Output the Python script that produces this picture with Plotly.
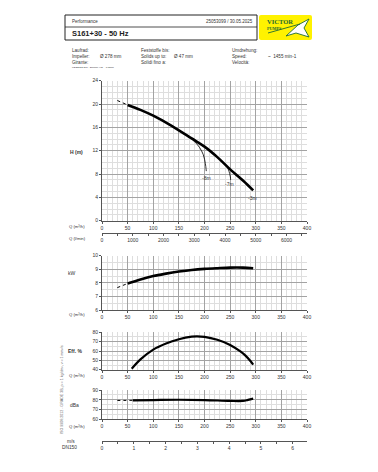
import plotly.graph_objects as go

# The page body has an 8px default margin: the figure is drawn 8px in from the top-left corner.
OFF = 8
W, H = 378 - 2 * OFF, 472 - 2 * OFF
def px(x): return (x - OFF) / W
def py(y): return 1 - (y - OFF) / H

# ---------------- data ----------------
q_head_dash = [30, 40, 50]
h_head_dash = [20.6, 20.25, 19.85]
q_head = [50, 75, 100, 125, 150, 175, 200, 225, 250, 275, 295]
h_head = [19.85, 19.0, 18.0, 16.8, 15.5, 14.1, 12.7, 10.9, 8.8, 6.9, 5.2]

q_npsh8 = [166, 180, 190, 197.7, 201.7, 203, 203.5]
h_npsh8 = [14.6, 13.6, 12.6, 11.3, 9.8, 8.9, 8.5]
q_npsh7 = [232, 240, 246, 249, 250.5, 251]
h_npsh7 = [10.4, 9.7, 8.9, 8.1, 7.5, 7.0]
curve_labels = ["-8m", "-7m", "-3m"]
label_q = [203, 249, 294]
label_h = [7.3, 6.3, 3.9]

q_kw_dash = [30, 40, 50]
kw_dash = [7.65, 7.8, 7.95]
q_kw = [50, 75, 100, 125, 150, 175, 200, 225, 250, 275, 295]
kw = [7.95, 8.25, 8.5, 8.68, 8.83, 8.95, 9.03, 9.08, 9.12, 9.12, 9.08]

q_eff = [58, 75, 100, 125, 150, 175, 185, 200, 225, 250, 270, 280, 290, 295]
eff = [41, 51, 61.5, 68, 72.5, 75.3, 75.7, 75.2, 72, 66.5, 59.5, 55, 49, 45.5]

q_db_dash = [30, 45, 60]
db_dash = [79.3, 79.3, 79.4]
q_db = [60, 100, 150, 200, 250, 275, 285, 295]
db = [79.4, 79.7, 80.0, 79.7, 78.8, 78.8, 79.9, 81.2]

Q_RANGE = [0, 400]
LMIN_PER_M3H = 1000 / 60
M3H_PER_MS = 61.4      # DN150 flow per 1 m/s

# ---------------- figure ----------------
fig = go.Figure()
BLK = "#000000"

fig.add_trace(go.Scatter(x=q_head_dash, y=h_head_dash, mode="lines",
                         line=dict(color=BLK, width=1, dash="dot"), xaxis="x", yaxis="y"))
fig.add_trace(go.Scatter(x=q_head, y=h_head, mode="lines", line=dict(color=BLK, width=2.6, shape="spline"),
                         xaxis="x", yaxis="y"))
fig.add_trace(go.Scatter(x=q_npsh8, y=h_npsh8, mode="lines", line=dict(color=BLK, width=0.8, shape="spline"),
                         xaxis="x", yaxis="y"))
fig.add_trace(go.Scatter(x=q_npsh7, y=h_npsh7, mode="lines", line=dict(color=BLK, width=0.8, shape="spline"),
                         xaxis="x", yaxis="y"))
# invisible carrier for l/min axis
fig.add_trace(go.Scatter(x=[q * LMIN_PER_M3H for q in q_head], y=h_head, mode="lines", opacity=0,
                         hoverinfo="skip", xaxis="x2", yaxis="y"))

fig.add_trace(go.Scatter(x=q_kw_dash, y=kw_dash, mode="lines", line=dict(color=BLK, width=1, dash="dot"),
                         xaxis="x3", yaxis="y3"))
fig.add_trace(go.Scatter(x=q_kw, y=kw, mode="lines", line=dict(color=BLK, width=2.6, shape="spline"),
                         xaxis="x3", yaxis="y3"))

fig.add_trace(go.Scatter(x=q_eff, y=eff, mode="lines", line=dict(color=BLK, width=2.2, shape="spline"),
                         xaxis="x4", yaxis="y4"))

fig.add_trace(go.Scatter(x=q_db_dash, y=db_dash, mode="lines", line=dict(color=BLK, width=1, dash="dot"),
                         xaxis="x5", yaxis="y5"))
fig.add_trace(go.Scatter(x=q_db, y=db, mode="lines", line=dict(color=BLK, width=2.2, shape="spline"),
                         xaxis="x5", yaxis="y5"))
# invisible carrier for m/s axis
fig.add_trace(go.Scatter(x=[q / M3H_PER_MS for q in q_db], y=db, mode="lines", opacity=0,
                         hoverinfo="skip", xaxis="x6", yaxis="y5"))

XD = [px(102), px(307)]
TF = dict(size=5, color="#333333", family="Liberation Sans, Arial")
MAJ = "#a3a3a3"
MIN = "#dedede"
LINE = "#555555"

def qaxis(anchor):
    return dict(domain=XD, range=Q_RANGE, anchor=anchor, tick0=0, dtick=50, automargin=False,
                showgrid=True, gridcolor=MAJ, gridwidth=0.8,
                minor=dict(dtick=10, showgrid=True, gridcolor=MIN, gridwidth=0.6),
                showline=True, linecolor=LINE, linewidth=0.8, ticks="outside", ticklen=2,
                tickcolor=LINE, tickwidth=0.6, tickfont=TF, zeroline=False, fixedrange=True)

def vaxis(top, bottom, rng, dtick, mdtick, anchor):
    return dict(domain=[py(bottom), py(top)], range=rng, anchor=anchor, dtick=dtick, automargin=False,
                showgrid=True, gridcolor=MAJ, gridwidth=0.8,
                minor=dict(dtick=mdtick, showgrid=True, gridcolor=MIN, gridwidth=0.6),
                showline=True, linecolor=LINE, linewidth=0.8, ticks="outside", ticklen=2,
                tickcolor=LINE, tickwidth=0.6, tickfont=TF, zeroline=False, fixedrange=True)

fig.update_layout(
    template="none",
    width=W, height=H, margin=dict(l=0, r=0, t=0, b=0, pad=0), autosize=False,
    paper_bgcolor="white", plot_bgcolor="white", showlegend=False,
    font=dict(family="Liberation Sans, Arial", color="#333333"),
    xaxis=qaxis("y"),
    yaxis=vaxis(80.7, 220.7, [0, 24], 4, 1, "x"),
    xaxis2=dict(domain=XD, range=[0, Q_RANGE[1] * LMIN_PER_M3H], anchor="free", position=py(232.7),
                overlaying="x", dtick=1000, tick0=0, showgrid=False, showline=True, linecolor=LINE,
                linewidth=0.8, ticks="outside", ticklen=2, tickcolor=LINE, tickwidth=0.6, automargin=False,
                minor=dict(dtick=500, ticks="outside", ticklen=2, tickcolor=LINE, showgrid=False),
                tickfont=TF, zeroline=False, fixedrange=True),
    xaxis3=qaxis("y3"),
    yaxis3=vaxis(255.7, 310, [6, 10], 1, 0.5, "x3"),
    xaxis4=qaxis("y4"),
    yaxis4=vaxis(332.3, 369.7, [40, 80], 10, 5, "x4"),
    xaxis5=qaxis("y5"),
    yaxis5=vaxis(390, 419.3, [60, 90], 10, 5, "x5"),
    xaxis6=dict(domain=[px(101.3), px(305)], range=[0, 6.45], anchor="free", position=py(440.7),
                overlaying="x5", dtick=1, tick0=0, showgrid=False, showline=True, linecolor=LINE,
                linewidth=0.8, ticks="outside", ticklen=2, tickcolor=LINE, tickwidth=0.6, automargin=False,
                minor=dict(dtick=0.5, ticks="outside", ticklen=2, tickcolor=LINE, showgrid=False),
                tickfont=TF, zeroline=False, fixedrange=True),
)

ann = []
def txt(x, y, s, size=5, anchor="left", color="#333333", bold=False, family="Liberation Sans, Arial", angle=0):
    if bold:
        s = "<b>" + s + "</b>"
    ann.append(dict(x=px(x), y=py(y), xref="paper", yref="paper", text=s, showarrow=False,
                    xanchor=anchor, yanchor="middle", textangle=angle,
                    font=dict(size=size, color=color, family=family)))

# curve labels (data coords)
for s, q, h in zip(curve_labels, label_q, label_h):
    ann.append(dict(x=q, y=h, xref="x", yref="y", text=s, showarrow=False,
                    font=dict(size=5, color="#333333", family="Liberation Sans, Arial")))

# header
txt(70, 21.5, "Performance", 4.5)
txt(254.5, 21.5, "25053099 / 30.05.2025", 4.5, anchor="right")
txt(70, 33.8, "S161+30 - 50 Hz", 7.5, bold=True, color="#222222")

txt(70, 50.5, "Laufrad:", 4.6)
txt(70, 56.8, "Impeller:", 4.6)
txt(70, 62.6, "Girante:", 4.6)
txt(70, 67.5, "U2ISS/DS 278 - 278mm; H/D = 145mm", 2.4)
txt(98, 56.8, "Ø 278 mm", 4.6)
txt(139, 50.5, "Feststoffe bis:", 4.6)
txt(139, 56.8, "Solids up to:", 4.6)
txt(139, 62.6, "Solidi fino a:", 4.6)
txt(172, 56.8, "Ø 47 mm", 4.6)
txt(230, 50.5, "Umdrehung:", 4.6)
txt(230, 56.8, "Speed:", 4.6)
txt(230, 62.6, "Velocità:", 4.6)
txt(266, 56.8, "~  1455 min-1", 4.6)

# axis labels on the left
txt(76, 152, "H (m)", 5, anchor="center", bold=True)
txt(77, 226, "Q (m³/h)", 4.2, anchor="center")
txt(77, 239, "Q (l/min)", 4.2, anchor="center")
txt(72, 273, "kW", 5, anchor="center")
txt(77, 314, "Q (m³/h)", 4.2, anchor="center")
txt(75, 351, "Eff. %", 5, anchor="center", bold=True)
txt(77, 375.5, "Q (m³/h)", 4.2, anchor="center")
txt(74, 404.5, "dBa", 5, anchor="center")
txt(77, 426, "Q (m³/h)", 4.2, anchor="center")
txt(71, 441, "m/s", 4.8, anchor="center")
txt(69, 447.5, "DN150", 4.8, anchor="center")

txt(62, 390, "ISO 9906:2012 - GRADE 3B, ρ = 1 kg/dm³, ν = 1 mm²/s", 3.6, anchor="center",
    color="#666666", angle=-90)

# logo
txt(265, 22, "VICTOR", 6.5, color="#1d6a36", bold=True, family="Liberation Serif, Times New Roman")
txt(265, 28.5, "PUMPS", 4.2, color="#1d6a36", bold=True, family="Liberation Serif, Times New Roman")

fig.update_layout(annotations=ann)

shapes = [
    dict(type="rect", xref="paper", yref="paper", x0=px(65), x1=px(257), y0=py(40), y1=py(15),
         line=dict(color="#222222", width=1)),
    dict(type="line", xref="paper", yref="paper", x0=px(65), x1=px(257), y0=py(27), y1=py(27),
         line=dict(color="#222222", width=0.8)),
    dict(type="path", xref="paper", yref="paper",
         path="M {a},{b} L {c},{b} Q {d},{b} {d},{e} L {d},{f} Q {d},{g} {c},{g} L {a},{g} Q {h},{g} {h},{f} L {h},{e} Q {h},{b} {a},{b} Z".format(
             a=px(261), c=px(310), d=px(312), h=px(259), b=py(15), e=py(17), f=py(38), g=py(40)),
         fillcolor="#fff200", line=dict(width=0)),
    dict(type="path", xref="paper", yref="paper",
         path="M {},{} L {},{} L {},{} L {},{} L {},{} L {},{} Z".format(
             px(286), py(36), px(298), py(25), px(309), py(19), px(304), py(28), px(309), py(37), px(296), py(33)),
         fillcolor="white", line=dict(color="#1d6a36", width=0.9)),
    dict(type="path", xref="paper", yref="paper",
         path="M {},{} L {},{}".format(px(268), py(33), px(300), py(24)),
         line=dict(color="#1d6a36", width=0.9)),
]
fig.update_layout(shapes=shapes)

fig.write_html("out.html")
